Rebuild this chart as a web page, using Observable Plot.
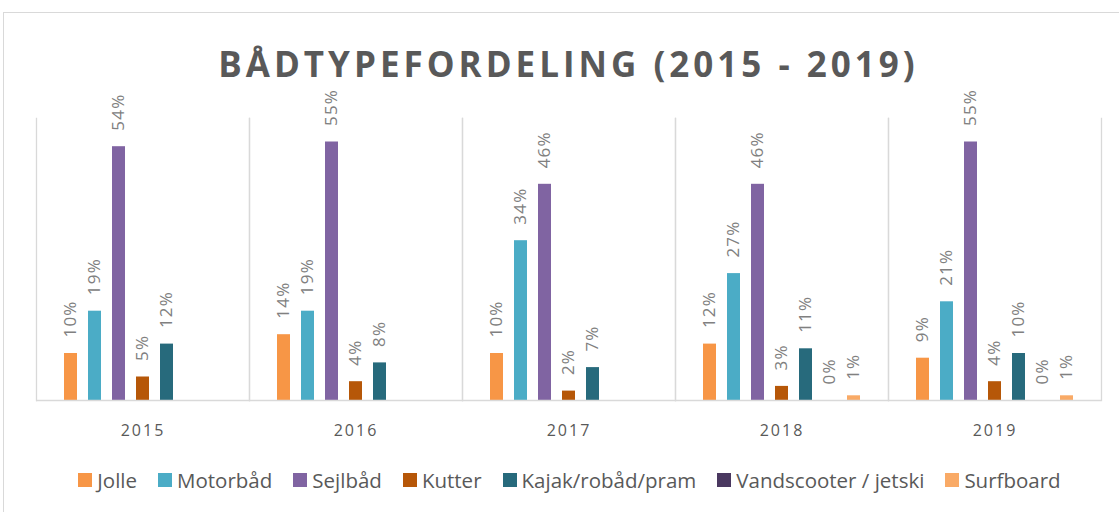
<!DOCTYPE html>
<html>
<head>
<meta charset="utf-8">
<script src="https://cdn.jsdelivr.net/npm/d3@7"></script>
<script src="https://cdn.jsdelivr.net/npm/@observablehq/plot@0.6"></script>
<style>
  html, body { margin: 0; padding: 0; background: #fff; }
  body { width: 1119px; height: 512px; position: relative; overflow: hidden; font-family: "Open Sans", sans-serif; }
  #frame { position: absolute; left: 3px; top: 12px; width: 1120px; height: 510px; border: 1px solid #d9d9d9; box-sizing: border-box; }
  #title { position: absolute; left: 36px; width: 1065px; top: 39px; text-align: center; font-size: 35px; font-weight: 700; color: #595959; letter-spacing: 4px; line-height: 50px; }
  #chart { position: absolute; left: 0; top: 70px; }
  #legend { position: absolute; left: 0; width: 1119px; top: 465px; display: flex; justify-content: center; gap: 21px; font-size: 20.5px; color: #595959; line-height: 30px; padding-left: 20px; box-sizing: border-box; }
  .item { display: flex; align-items: center; gap: 5px; }
  .sw { width: 14px; height: 14px; display: inline-block; }
  #chart svg g[aria-label="fx-axis tick label"] text { letter-spacing: 2px; }
  #chart svg g[aria-label="text"] text { letter-spacing: 1.2px; }
</style>
</head>
<body>
<div id="frame"></div>
<div id="title">BÅDTYPEFORDELING (2015 - 2019)</div>
<div id="chart"></div>
<div id="legend"></div>
<script>
const years = ["2015", "2016", "2017", "2018", "2019"];
const types = ["Jolle", "Motorbåd", "Sejlbåd", "Kutter", "Kajak/robåd/pram", "Vandscooter / jetski", "Surfboard"];
const colors = ["#F79646", "#4BACC6", "#8064A2", "#B65708", "#276A7C", "#4A3860", "#F9AA66"];
const jolle = [10, 14, 10, 12, 9];
const motorbaad = [19, 19, 34, 27, 21];
const sejlbaad = [54, 55, 46, 46, 55];
const kutter = [5, 4, 2, 3, 4];
const kajak = [12, 8, 7, 11, 10];
const vandscooter = [null, null, null, 0, 0];
const surfboard = [null, null, null, 1, 1];

const series = [jolle, motorbaad, sejlbaad, kutter, kajak, vandscooter, surfboard];
const data = [];
years.forEach((year, i) => {
  types.forEach((type, j) => {
    data.push({year, type, value: series[j][i]});
  });
});
const labeled = data.filter(d => d.value != null);

const chart = Plot.plot({
  width: 1119,
  height: 390,
  marginTop: 48,
  marginBottom: 60,
  marginLeft: 36,
  marginRight: 18,
  style: {fontFamily: "'Open Sans', sans-serif", background: "transparent", overflow: "visible"},
  fx: {domain: years, padding: 0, label: null},
  x: {domain: types, paddingInner: 0.47, paddingOuter: 1.17, axis: null},
  y: {domain: [0, 60], axis: null},
  color: {domain: types, range: colors},
  marks: [
    Plot.frame({anchor: "left", stroke: "#d9d9d9", strokeWidth: 1.3}),
    Plot.frame({anchor: "right", stroke: "#d9d9d9", strokeWidth: 1.3}),
    Plot.barY(labeled, {fx: "year", x: "type", y: "value", fill: "type"}),
    Plot.text(labeled, {
      fx: "year", x: "type", y: "value",
      text: d => d.value + "%",
      rotate: -90, textAnchor: "start", dy: -16,
      fill: "#808080", fontSize: 17, lineAnchor: "middle"
    }),
    Plot.ruleY([0], {stroke: "#d9d9d9", strokeWidth: 1.5}),
    Plot.axisFx({anchor: "bottom", tickSize: 0, tickPadding: 24, fontSize: 16, fill: "#595959", label: null})
  ]
});
document.getElementById("chart").appendChild(chart);

const legend = document.getElementById("legend");
types.forEach((t, i) => {
  const item = document.createElement("div");
  item.className = "item";
  const sw = document.createElement("span");
  sw.className = "sw";
  sw.style.background = colors[i];
  const lbl = document.createElement("span");
  lbl.textContent = t;
  item.appendChild(sw);
  item.appendChild(lbl);
  legend.appendChild(item);
});
</script>
</body>
</html>
